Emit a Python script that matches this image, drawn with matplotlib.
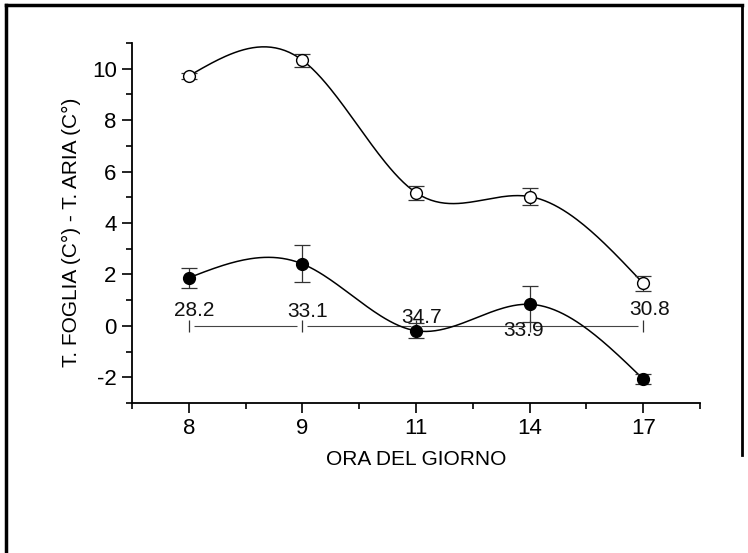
import numpy as np
import matplotlib
matplotlib.use('Agg')
import matplotlib.pyplot as plt
from matplotlib.lines import Line2D

plt.rcParams['font.family'] = ['Liberation Sans', 'DejaVu Sans']
plt.rcParams['axes.unicode_minus'] = False

hours = ['8', '9', '11', '14', '17']
open_vals = [9.72, 10.33, 5.18, 5.03, 1.65]
open_err = [0.10, 0.25, 0.27, 0.33, 0.30]
filled_vals = [1.87, 2.41, -0.19, 0.84, -2.07]
filled_err = [0.39, 0.72, 0.30, 0.70, 0.18]
air_temp = ['28.2', '33.1', '34.7', '33.9', '30.8']
# label offsets (pixels) relative to the zero line
label_dx = [5, 5, 6, -6, 6]
label_dy = [15, 14, 8, -5, 16]


def natural_spline(x, y, n=200):
    # natural cubic spline just for drawing the smooth curve
    x = np.asarray(x, float)
    y = np.asarray(y, float)
    k = len(x)
    h = np.diff(x)
    A = np.zeros((k, k))
    b = np.zeros(k)
    A[0, 0] = A[-1, -1] = 1
    for i in range(1, k - 1):
        A[i, i - 1] = h[i - 1]
        A[i, i] = 2 * (h[i - 1] + h[i])
        A[i, i + 1] = h[i]
        b[i] = 6 * ((y[i + 1] - y[i]) / h[i] - (y[i] - y[i - 1]) / h[i - 1])
    M = np.linalg.solve(A, b)
    xs = np.linspace(x[0], x[-1], n)
    idx = np.clip(np.searchsorted(x, xs) - 1, 0, k - 2)
    x0, x1 = x[idx], x[idx + 1]
    hh = x1 - x0
    a = (x1 - xs) / hh
    c = (xs - x0) / hh
    ys = (a * y[idx] + c * y[idx + 1]
          + ((a ** 3 - a) * M[idx] + (c ** 3 - c) * M[idx + 1]) * hh ** 2 / 6)
    return xs, ys


fig = plt.figure(figsize=(7.48, 5.53), dpi=100)
ax = fig.add_axes([0.1765, 0.2712, 0.7594, 0.651])

pos = np.arange(len(hours))

# zero reference line with air temperatures
ax.plot(pos, np.zeros(len(pos)), color='#444444', lw=0.8, zorder=1)
ax.plot(pos, np.zeros(len(pos)), ls='none', marker='s', ms=7,
        mfc='white', mec='none', zorder=1.5)
ax.plot(pos, np.zeros(len(pos)), ls='none', marker='|', ms=8,
        mec='#333333', mew=0.9, zorder=1.6)
for i, t in enumerate(air_temp):
    ax.annotate(t, (pos[i], 0), xytext=(label_dx[i], label_dy[i]),
                textcoords='offset pixels', ha='center', va='center',
                fontsize=15, color='#111111', zorder=5)

# curves
xs, ys = natural_spline(pos, open_vals)
ax.plot(xs, ys, color='black', lw=1.1, zorder=2)
xs, ys = natural_spline(pos, filled_vals)
ax.plot(xs, ys, color='black', lw=1.1, zorder=2)

ax.errorbar(pos, open_vals, yerr=open_err, fmt='none', ecolor='#333333',
            elinewidth=0.9, capsize=6, capthick=0.9, zorder=3)
ax.errorbar(pos, filled_vals, yerr=filled_err, fmt='none', ecolor='#333333',
            elinewidth=0.9, capsize=6, capthick=0.9, zorder=3)
ax.plot(pos, open_vals, ls='none', marker='o', ms=8.5, mfc='white',
        mec='black', mew=1.0, zorder=4)
ax.plot(pos, filled_vals, ls='none', marker='o', ms=8.5, mfc='black',
        mec='black', zorder=4)

ax.set_xlim(-0.5, 4.5)
ax.set_ylim(-3, 11)
ax.set_xticks(pos)
ax.set_xticklabels(hours)
ax.set_xticks(np.arange(-0.5, 4.6, 1.0), minor=True)
ax.set_yticks([-2, 0, 2, 4, 6, 8, 10])
ax.set_yticks(np.arange(-3, 11.1, 2), minor=True)

for s in ['top', 'right']:
    ax.spines[s].set_visible(False)
for s in ['left', 'bottom']:
    ax.spines[s].set_linewidth(1.3)

ax.tick_params(which='major', direction='out', length=7, width=1.2,
               labelsize=16, pad=4)
ax.tick_params(which='minor', direction='out', length=4, width=1.2)

ax.set_xlabel('ORA DEL GIORNO', fontsize=15)
ax.set_ylabel('T. FOGLIA (C°) - T. ARIA (C°)', fontsize=15)
ax.xaxis.set_label_coords(0.5, -0.158)
ax.yaxis.set_label_coords(-0.106, 0.475)
ax.xaxis.label.set_va('center')
ax.yaxis.label.set_va('center')

# outer frame (left, top, right part only)
W, H = 748.0, 553.0
fig.add_artist(Line2D([6 / W, 6 / W], [0, 1 - 5 / H], color='black', lw=2.5,
                      transform=fig.transFigure))
fig.add_artist(Line2D([6 / W, 742 / W], [1 - 5 / H, 1 - 5 / H], color='black',
                      lw=2.5, transform=fig.transFigure))
fig.add_artist(Line2D([742 / W, 742 / W], [1 - 5 / H, 1 - 455 / H],
                      color='black', lw=2.0, transform=fig.transFigure))

plt.savefig('out.png', dpi=100)
plt.close()
